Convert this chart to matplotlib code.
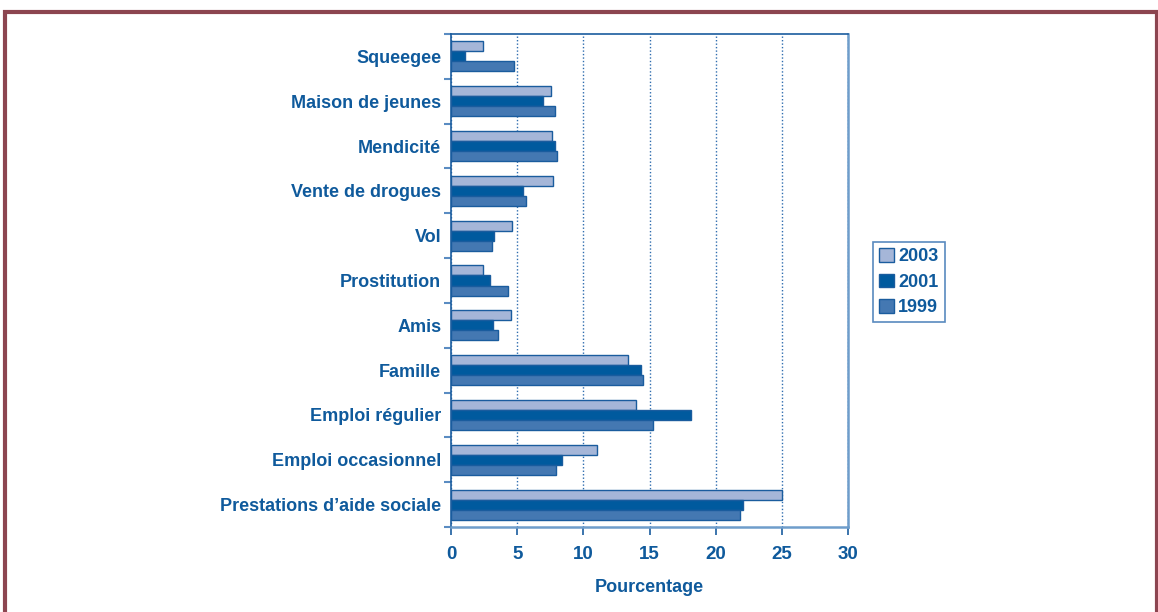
import matplotlib.pyplot as plt
from matplotlib.patches import Rectangle
import numpy as np

# Données (pourcentages)
categories = ['Squeegee', 'Maison de jeunes', 'Mendicité', 'Vente de drogues', 'Vol',
              'Prostitution', 'Amis', 'Famille', 'Emploi régulier',
              'Emploi occasionnel', "Prestations d\u2019aide sociale"]
years = ['2003', '2001', '1999']
values_2003 = [2.45, 7.53, 7.61, 7.74, 4.64, 2.45, 4.54, 13.35, 13.96, 11.06, 25.0]
values_2001 = [1.06, 6.95, 7.86, 5.44, 3.25, 2.95, 3.15, 14.36, 18.17, 8.37, 22.07]
values_1999 = [4.73, 7.86, 8.04, 5.64, 3.07, 4.33, 3.55, 14.54, 15.24, 7.96, 21.87]

text_color = '#0F5A9C'
edge_color = '#1A5C9E'
colors = {'2003': '#A5B6D8', '2001': '#005A9E', '1999': '#4478B2'}

plt.rcParams['font.family'] = ['Liberation Sans', 'DejaVu Sans']
plt.rcParams['font.weight'] = 'bold'

fig = plt.figure(figsize=(11.58, 6.12), dpi=100)
ax = fig.add_axes([451 / 1158, 1 - 527 / 612, (848 - 451) / 1158, (527 - 34) / 612])

n = len(categories)
y = np.arange(n)
h = 0.224
series = [values_2003, values_2001, values_1999]
for i, (yr, vals) in enumerate(zip(years, series)):
    ax.barh(y + (i - 1) * h, vals, height=h, color=colors[yr],
            edgecolor=edge_color, linewidth=1.0, label=yr, zorder=3)

ax.set_xlim(0, 30)
ax.set_ylim(n - 0.5, -0.5)
ax.set_xticks(range(0, 31, 5))
ax.set_yticks(y)
ax.set_yticklabels(categories)
ax.set_yticks(np.arange(-0.5, n, 1), minor=True)
ax.tick_params(axis='y', which='major', length=0, pad=7, labelsize=13, labelcolor=text_color)
ax.tick_params(axis='y', which='minor', length=5, width=1.5, color='#5A8CC2', direction='out')
ax.tick_params(axis='x', length=6, width=1.2, color=edge_color, pad=8, labelsize=13.5,
               labelcolor=text_color)
for lbl in ax.get_xticklabels() + ax.get_yticklabels():
    lbl.set_fontweight('bold')

ax.xaxis.grid(True, linestyle=(0, (1, 1.5)), color='#2F6DAF', linewidth=1.0, zorder=0)
for s in ['left', 'top']:
    ax.spines[s].set_color(edge_color)
    ax.spines[s].set_linewidth(1.2)
for s in ['right', 'bottom']:
    ax.spines[s].set_color('#6E9DCB')
    ax.spines[s].set_linewidth(1.8)

ax.set_xlabel('Pourcentage', fontsize=13, fontweight='bold', color=text_color, labelpad=11)

leg = fig.legend(loc='upper left', bbox_to_anchor=(873 / 1158, 1 - 242 / 612),
                 frameon=True, fancybox=False, fontsize=13, handlelength=0.8,
                 handleheight=0.8, handletextpad=0.25, borderpad=0.35, labelspacing=0.45,
                 borderaxespad=0)
leg.get_frame().set_edgecolor('#2F6DAF')
leg.get_frame().set_linewidth(1.2)
for t in leg.get_texts():
    t.set_color(text_color)
    t.set_fontweight('bold')

# Cadre bordeaux autour du graphique
fig.patches.append(Rectangle((4.5 / 1158, -0.05), (1156.5 - 4.5) / 1158, 1.05 - 12 / 612,
                             transform=fig.transFigure, fill=False,
                             edgecolor='#8C4550', linewidth=3))

fig.savefig('out.png', dpi=100)
